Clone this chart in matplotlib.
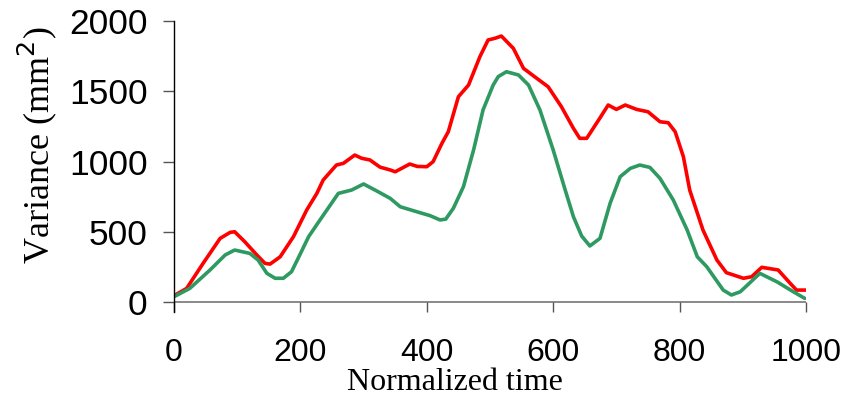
import matplotlib
matplotlib.use("Agg")
import matplotlib.pyplot as plt

red_x = [0, 20, 46, 73, 89, 96, 112, 131, 144, 152, 168, 189, 210, 226, 236, 257, 268, 286, 297, 310,
         326, 342, 350, 373, 385, 400, 410, 424, 434, 450, 466, 484, 497, 508, 518, 537, 553, 574, 592,
         613, 632, 642, 653, 674, 687, 700, 714, 732, 750, 769, 782, 793, 806, 816, 837, 859, 874, 901,
         914, 930, 956, 975, 985, 1000]
red_y = [45, 97, 275, 453, 496, 500, 429, 335, 275, 270, 322, 465, 655, 773, 868, 975, 987, 1046, 1023, 1011,
         960, 940, 927, 982, 965, 963, 999, 1130, 1212, 1461, 1544, 1746, 1865, 1877, 1893, 1805, 1663, 1592, 1532,
         1390, 1236, 1165, 1165, 1310, 1402, 1371, 1402, 1371, 1354, 1283, 1276, 1212, 1034, 797, 512, 299, 209, 169,
         180, 247, 228, 133, 85, 85]

green_x = [0, 25, 57, 81, 96, 120, 133, 147, 160, 173, 186, 199, 213, 231, 260, 281, 300, 323, 342, 358, 389,
           405, 421, 430, 442, 458, 474, 489, 505, 513, 526, 545, 561, 579, 600, 619, 632, 645, 658, 674, 690,
           706, 722, 737, 753, 769, 790, 812, 828, 843, 869, 882, 896, 927, 954, 980, 998]
green_y = [38, 97, 228, 335, 370, 346, 299, 204, 169, 169, 216, 335, 465, 584, 773, 797, 840, 785, 738, 678, 636,
           615, 584, 590, 667, 821, 1082, 1367, 1544, 1604, 1639, 1616, 1544, 1367, 1082, 797, 607, 470, 399, 453, 702,
           892, 951, 975, 958, 880, 726, 512, 322, 251, 85, 50, 73, 204, 144, 73, 26]

x_ticks = [0, 200, 400, 600, 800, 1000]
y_ticks = [0, 500, 1000, 1500, 2000]

W, H = 848, 401
fig = plt.figure(figsize=(W / 100, H / 100), dpi=100)
ax = fig.add_axes([174 / W, (H - 312) / H, (806 - 174) / W, (312 - 21) / H])

ax.plot(red_x, red_y, color="#ff0000", lw=2.6, solid_joinstyle="round", solid_capstyle="round")
ax.plot(green_x, green_y, color="#2e9a62", lw=2.6, solid_joinstyle="round", solid_capstyle="round")

ax.set_xlim(0, 1000)
ax.set_ylim(-71, 2000)
ax.axhline(0, color="#808080", lw=1.3, zorder=0)

for s in ["top", "right", "bottom"]:
    ax.spines[s].set_visible(False)
ax.spines["left"].set_color("black")
ax.spines["left"].set_linewidth(1.0)

ax.set_xticks(x_ticks)
ax.set_yticks(y_ticks)
ax.tick_params(axis="x", direction="in", length=7.2, width=1.0, color="#555555", pad=19,
               labelsize=23)
ax.tick_params(axis="y", direction="out", length=8, width=1.0, color="#555555", pad=11,
               labelsize=25.5)
for lab in ax.get_xticklabels() + ax.get_yticklabels():
    lab.set_fontfamily("Liberation Sans")

fig.text(37 / W, 1 - 145 / H, "Variance (mm$^2$)", rotation=90, ha="center", va="center",
         fontsize=26, family="Liberation Serif")
fig.text(455 / W, 1 - 383 / H, "Normalized time", ha="center", va="center",
         fontsize=23, family="Liberation Serif")

fig.savefig("out.png", dpi=100)
